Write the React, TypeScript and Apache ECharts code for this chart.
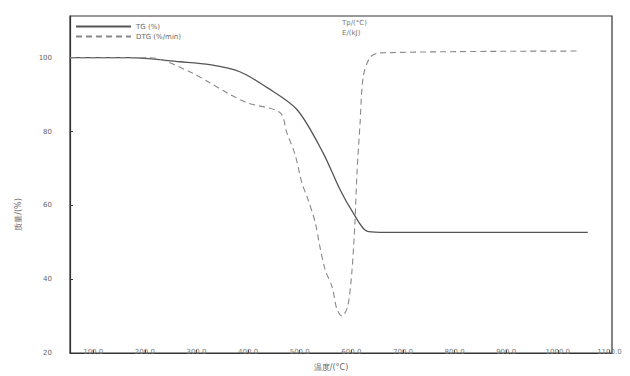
import React, { useEffect, useRef } from "react";
import * as echarts from "echarts";

const xTicks = [100, 200, 300, 400, 500, 600, 700, 800, 900, 1000, 1100];

const tgTemp = [55, 171, 268, 326, 384, 437, 495, 545, 578, 603, 630, 655, 1058];
const tgMass = [100, 100, 98.9, 98.1, 96.2, 91.9, 85.9, 74.3, 64.3, 58.1, 53.0, 52.7, 52.7];

const dtgTemp = [55, 210, 287, 326, 359, 398, 462, 475, 491, 504, 516, 530, 539, 549, 563, 572, 582, 593, 601, 607, 611, 617, 623, 636, 655, 1043];
const dtgVal = [100, 100, 96.2, 93.2, 90.5, 87.8, 85.1, 79.7, 73.8, 66.2, 61.6, 55.4, 48.9, 42.7, 37.8, 31.9, 30.0, 32.7, 41.9, 55.4, 68.9, 82.4, 94.8, 100, 101.3, 101.8];

const seriesNames = ["TG (%)", "DTG (%/min)"];

export default function App() {
  const ref = useRef<HTMLDivElement>(null);
  useEffect(() => {
    const chart = echarts.init(ref.current!, null, { renderer: "svg" });
    const font = "DejaVu Sans";
    const legendCommon = {
      orient: "horizontal",
      left: 70,
      itemWidth: 55,
      itemHeight: 8,
      itemStyle: { opacity: 0 },
      textStyle: { fontSize: 7, color: "#666" },
    };
    chart.setOption({
      animation: false,
      backgroundColor: "#fff",
      textStyle: { fontFamily: font },
      grid: { left: 70, right: 18, top: 16, bottom: 22, show: true, borderColor: "#333", borderWidth: 1.2 },
      legend: [
        { ...legendCommon, top: 18, data: [seriesNames[0]] },
        { ...legendCommon, top: 28, data: [seriesNames[1]] },
      ],
      graphic: [
        { type: "text", left: 342, top: 19, style: { text: "Tp/(°C)", fontSize: 7, fill: "#777", fontFamily: font } },
        { type: "text", left: 342, top: 29, style: { text: "E/(kJ)", fontSize: 7, fill: "#777", fontFamily: font } },
      ],
      xAxis: {
        type: "value",
        min: 55,
        max: 1105,
        name: "温度/(°C)",
        nameLocation: "middle",
        nameGap: 10,
        nameTextStyle: { fontSize: 8, color: "#666", padding: [0, 20, 0, 0] },
        axisLine: { lineStyle: { color: "#333", width: 1.2 } },
        axisTick: { inside: true, length: 3, customValues: xTicks, lineStyle: { color: "#333" } },
        axisLabel: { customValues: xTicks, fontSize: 7, color: "#777", margin: -5, formatter: (v: number) => v.toFixed(1) },
        splitLine: { show: false },
      },
      yAxis: [
        {
          type: "value",
          min: 20,
          max: 111.3,
          interval: 20,
          name: "质量/(%)",
          nameLocation: "middle",
          nameGap: 48,
          nameTextStyle: { fontSize: 8, color: "#666", padding: [0, 60, 0, 0] },
          axisLine: { show: true, lineStyle: { color: "#333", width: 1.2 } },
          axisTick: { inside: true, length: 3, lineStyle: { color: "#333" } },
          axisLabel: { fontSize: 7, color: "#666", margin: 18, showMaxLabel: false },
          splitLine: { show: false },
        },
      ],
      series: [
        {
          name: seriesNames[0],
          type: "line",
          symbol: "none",
          smooth: 0.3,
          data: tgTemp.map((t, i) => [t, tgMass[i]]),
          lineStyle: { color: "#555", width: 1.3 },
          itemStyle: { color: "#555" },
        },
        {
          name: seriesNames[1],
          type: "line",
          symbol: "none",
          smooth: 0.3,
          data: dtgTemp.map((t, i) => [t, dtgVal[i]]),
          lineStyle: { color: "#888", width: 1.1, type: [6, 4] },
          itemStyle: { color: "#888" },
        },
      ],
    });
    return () => chart.dispose();
  }, []);
  return <div ref={ref} style={{ position: "absolute", left: 0, top: 0, width: 630, height: 376 }} />;
}
